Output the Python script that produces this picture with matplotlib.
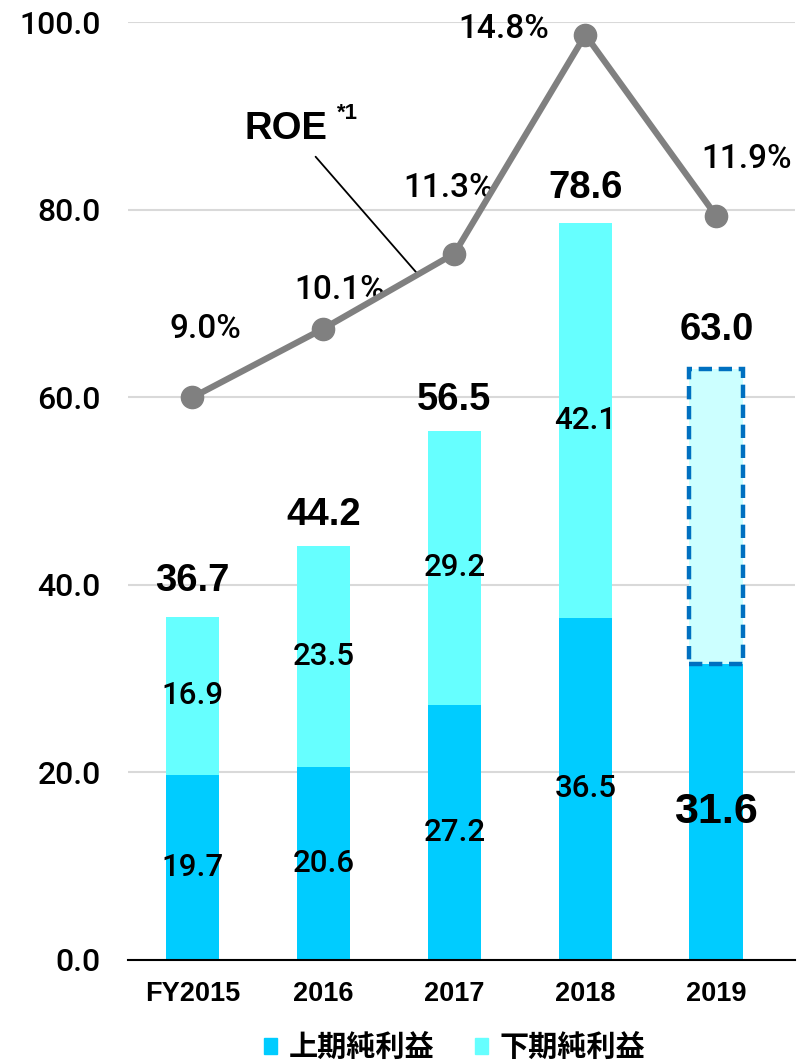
import matplotlib.pyplot as plt
from matplotlib.patches import Patch

plt.rcParams['font.family'] = ['Liberation Sans', 'Noto Sans CJK JP', 'DejaVu Sans']

years = ['FY2015', '2016', '2017', '2018', '2019']
first_half = [19.7, 20.6, 27.2, 36.5, 31.6]
second_half = [16.9, 23.5, 29.2, 42.1, 31.4]
totals = [36.7, 44.2, 56.5, 78.6, 63.0]
roe = [9.0, 10.1, 11.3, 14.8, 11.9]
roe_labels = ['9.0%', '10.1%', '11.3%', '14.8%', '11.9%']
# label offsets for roe texts (points)
roe_offsets = [(9, 49), (12, 28), (-4, 47), (-59, 4), (22, 41)]
total_offsets = [25, 22, 22, 25, 28]

c_low = '#00CCFF'
c_high = '#66FFFF'
med = dict(family=['Roboto', 'Liberation Sans'], weight='medium')

fig = plt.figure(figsize=(8.07, 10.63), dpi=100)
ax = fig.add_axes([0.159, 0.097, 0.826, 0.882])
x = list(range(len(years)))
w = 0.41

ax.bar(x, first_half, width=w, color=c_low, zorder=2)
ax.bar(x[:4], second_half[:4], width=w, bottom=first_half[:4], color=c_high, zorder=2)
# forecast box for 2019
ax.bar(x[4], second_half[4], width=w, bottom=first_half[4], color='#CCFFFF',
       edgecolor='#0070C0', linewidth=3.2, linestyle=(0, (3, 1.5)), zorder=3)

ax.set_ylim(0, 100)
ax.set_xlim(-0.49, 4.6)
ax.set_yticks([0, 20, 40, 60, 80, 100])
ax.set_yticklabels(['%.1f' % v for v in [0, 20, 40, 60, 80, 100]], fontsize=23, **med)
ax.set_xticks(x)
ax.set_xticklabels(years, fontsize=19.5, fontweight='bold')
ax.tick_params(axis='x', length=0, pad=15)
ax.tick_params(axis='y', length=0, pad=20)
ax.grid(axis='y', color='#D9D9D9', linewidth=1.5, zorder=0)
for s in ['top', 'right', 'left']:
    ax.spines[s].set_visible(False)
ax.spines['bottom'].set_color('black')
ax.spines['bottom'].set_linewidth(1.5)

for i in range(5):
    if i < 4:
        ax.text(x[i], first_half[i] / 2, '%.1f' % first_half[i], ha='center', va='center',
                fontsize=22.5, zorder=5, **med)
        ax.text(x[i], first_half[i] + second_half[i] / 2, '%.1f' % second_half[i],
                ha='center', va='center', fontsize=22.5, zorder=5, **med)
    else:
        ax.text(x[i], first_half[i] / 2, '%.1f' % first_half[i], ha='center', va='center',
                fontsize=31, fontweight='bold', zorder=5)
    ax.annotate('%.1f' % totals[i], (x[i], totals[i]), xytext=(0, total_offsets[i]),
                textcoords='offset points', ha='center', va='center',
                fontsize=27.5, fontweight='bold', zorder=5)

ax2 = ax.twinx()
ax2.set_ylim(0, 15)
ax2.axis('off')
ax2.plot(x, roe, color='#808080', linewidth=4.5, marker='o', markersize=16, zorder=4)
for i in range(5):
    ax2.annotate(roe_labels[i], (x[i], roe[i]), xytext=roe_offsets[i],
                 textcoords='offset points', ha='center', va='center', fontsize=24, **med)

ax2.annotate('', xy=(1.725, 10.96), xytext=(0.94, 12.85),
             arrowprops=dict(arrowstyle='-', color='black', lw=1.3, shrinkA=0, shrinkB=0))
ax2.text(0.71, 13.3, 'ROE', ha='center', va='center', fontsize=27.5, fontweight='bold')
ax2.text(1.18, 13.54, '*1', ha='center', va='center', fontsize=16, fontweight='bold')

handles = [Patch(color=c_low, label='上期純利益'), Patch(color=c_high, label='下期純利益')]
fig.legend(handles=handles, loc='center', bbox_to_anchor=(0.563, 0.015), ncol=2,
           frameon=False, prop={'family': ['Noto Sans CJK JP'], 'weight': 'bold', 'size': 21},
           handlelength=0.45, handleheight=0.45, handletextpad=0.4, columnspacing=1.4)

fig.savefig('out.png', dpi=100)
